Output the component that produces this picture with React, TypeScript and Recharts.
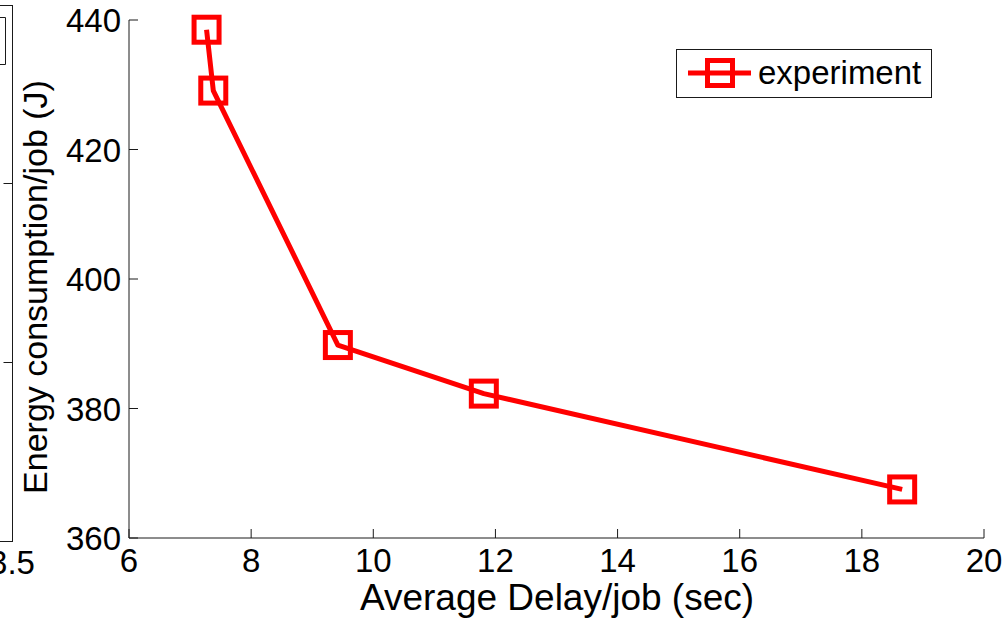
import React from 'react'
import {
  LineChart,
  Line,
  XAxis,
  YAxis,
  Legend,
} from 'recharts'

const delay = [7.27, 7.38, 9.42, 11.81, 18.66]
const energy = [438.5, 429.1, 389.8, 382.3, 367.5]
const xTicks = [6, 8, 10, 12, 14, 16, 18, 20]
const yTicks = [360, 380, 400, 420, 440]
const seriesName = 'experiment'

const data = delay.map((d, i) => ({ delay: d, energy: energy[i] }))

const FONT = "'Liberation Sans', Arial, Helvetica, sans-serif"
const AXIS = '#1a1a1a'
const RED = '#ff0000'
const TICK_LEN = 9

const BottomTick = (props: any) => {
  const { x, y, payload } = props
  return (
    <g>
      <line x1={x} y1={y} x2={x} y2={y - TICK_LEN} stroke={AXIS} strokeWidth={1} />
      <text x={x} y={y + 34} textAnchor="middle" fontSize={33} fontFamily={FONT} fill="#000">
        {payload.value}
      </text>
    </g>
  )
}

const TopTick = (props: any) => {
  const { x, y } = props
  return <line x1={x} y1={y} x2={x} y2={y + TICK_LEN} stroke={AXIS} strokeWidth={1} />
}

const LeftTick = (props: any) => {
  const { x, y, payload } = props
  return (
    <g>
      <line x1={x} y1={y} x2={x + TICK_LEN} y2={y} stroke={AXIS} strokeWidth={1} />
      <text x={x - 8} y={y + 12} textAnchor="end" fontSize={33} fontFamily={FONT} fill="#000">
        {payload.value}
      </text>
    </g>
  )
}

const RightTick = (props: any) => {
  const { x, y } = props
  return <line x1={x} y1={y} x2={x - TICK_LEN} y2={y} stroke={AXIS} strokeWidth={1} />
}

const SquareDot = (props: any) => {
  const { cx, cy, index } = props
  if (cx == null || cy == null) return null
  return (
    <rect
      key={`sq-${index}`}
      x={cx - 12.5}
      y={cy - 12.5}
      width={25}
      height={25}
      fill="none"
      stroke={RED}
      strokeWidth={5}
    />
  )
}

const LegendBox = (props: any) => {
  const item = props.payload && props.payload[0]
  return (
    <svg width={256} height={49} style={{ display: 'block' }}>
      <rect x={0.5} y={0.5} width={255} height={48} fill="#fff" stroke={AXIS} strokeWidth={1} />
      <line x1={12} y1={24} x2={75} y2={24} stroke={RED} strokeWidth={5} />
      <rect x={31.5} y={11.5} width={25} height={25} fill="none" stroke={RED} strokeWidth={5} />
      <text x={82} y={35} fontSize={33} fontFamily={FONT} fill="#000">
        {item ? item.value : seriesName}
      </text>
    </svg>
  )
}

// edge of the neighbouring subplot, clipped at the left border
const NeighbourEdge = () => (
  <svg
    width={60}
    height={619}
    style={{ position: 'absolute', left: 0, top: 0 }}
  >
    <line x1={0} y1={5.5} x2={12.5} y2={5.5} stroke={AXIS} strokeWidth={1} />
    <line x1={12.5} y1={5} x2={12.5} y2={542} stroke={AXIS} strokeWidth={1} />
    <line x1={0} y1={541.5} x2={12.5} y2={541.5} stroke={AXIS} strokeWidth={1} />
    <line x1={3.5} y1={183.5} x2={12.5} y2={183.5} stroke={AXIS} strokeWidth={1} />
    <line x1={3.5} y1={362.5} x2={12.5} y2={362.5} stroke={AXIS} strokeWidth={1} />
    <polyline points="0,17.5 5.5,17.5 5.5,64.5 0,64.5" fill="none" stroke={AXIS} strokeWidth={1} />
    <text x={12} y={574} textAnchor="middle" fontSize={33} fontFamily={FONT} fill="#000">
      3.5
    </text>
  </svg>
)

export default function App() {
  return (
    <div
      style={{
        position: 'absolute',
        left: 0,
        top: 0,
        width: 1004,
        height: 619,
        background: '#fff',
        overflow: 'hidden',
      }}
    >
      <NeighbourEdge />
      <LineChart
        width={1004}
        height={619}
        data={data}
        margin={{ top: 20, right: 20, bottom: 0, left: 0 }}
      >
        <XAxis
          xAxisId="bottom"
          dataKey="delay"
          type="number"
          domain={[6, 20]}
          ticks={xTicks}
          height={81}
          tickSize={0}
          tickMargin={0}
          tickLine={false}
          axisLine={{ stroke: AXIS, strokeWidth: 1 }}
          tick={<BottomTick />}
          interval={0}
        />
        <XAxis
          xAxisId="top"
          orientation="top"
          dataKey="delay"
          type="number"
          domain={[6, 20]}
          ticks={xTicks}
          height={0}
          tickSize={0}
          tickMargin={0}
          tickLine={false}
          axisLine={{ stroke: AXIS, strokeWidth: 1 }}
          tick={<TopTick />}
          interval={0}
        />
        <YAxis
          yAxisId="left"
          type="number"
          domain={[360, 440]}
          ticks={yTicks}
          width={129}
          tickSize={0}
          tickMargin={0}
          tickLine={false}
          axisLine={{ stroke: AXIS, strokeWidth: 1 }}
          tick={<LeftTick />}
          interval={0}
        />
        <YAxis
          yAxisId="right"
          orientation="right"
          type="number"
          domain={[360, 440]}
          ticks={yTicks}
          width={0}
          tickSize={0}
          tickMargin={0}
          tickLine={false}
          axisLine={{ stroke: AXIS, strokeWidth: 1 }}
          tick={<RightTick />}
          interval={0}
        />
        <Legend
          layout="vertical"
          align="center"
          verticalAlign="middle"
          content={<LegendBox />}
          wrapperStyle={{ position: 'absolute', left: 676, top: 49, width: 256, height: 49 }}
        />
        <Line
          xAxisId="bottom"
          yAxisId="left"
          name={seriesName}
          dataKey="energy"
          stroke={RED}
          strokeWidth={5}
          strokeLinejoin="round"
          dot={<SquareDot />}
          activeDot={false}
          legendType="square"
          isAnimationActive={false}
        />
        <text
          x={47}
          y={287}
          transform="rotate(-90, 47, 287)"
          textAnchor="middle"
          fontSize={34}
          fontFamily={FONT}
          fill="#000"
        >
          Energy consumption/job (J)
        </text>
        <text x={557} y={610} textAnchor="middle" fontSize={37} fontFamily={FONT} fill="#000">
          Average Delay/job (sec)
        </text>
      </LineChart>
    </div>
  )
}
